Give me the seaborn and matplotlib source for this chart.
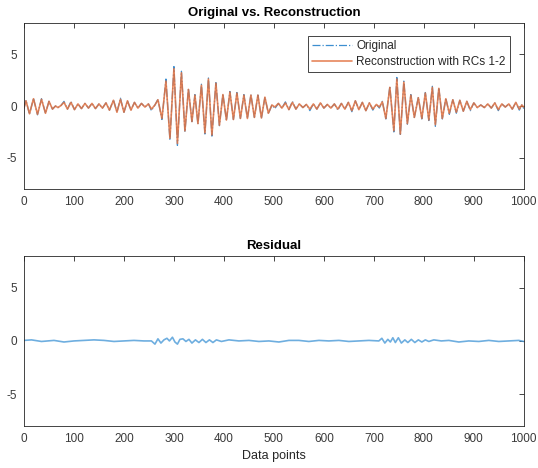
import matplotlib
matplotlib.use("Agg")
import matplotlib.pyplot as plt
import seaborn as sns

# extrema of the signal (sample index)
ext_idx = [0, 4, 11, 19, 27, 35, 43, 50, 57, 63, 68, 74, 80, 87, 94, 101, 108, 115,
           122, 129, 136, 143, 150, 157, 164, 171, 179, 186, 193, 200, 207, 214, 221,
           228, 235, 242, 249, 255, 262, 268, 276, 284, 292, 300, 307, 315, 322, 329,
           336, 342, 348, 355, 362, 369, 376, 384, 391, 398, 405, 412, 419, 426, 433,
           440, 447, 454, 461, 468, 475, 482, 489, 496, 502, 509, 516, 523, 530, 537,
           544, 551, 558, 565, 572, 579, 586, 593, 600, 607, 614, 621, 628, 635, 642,
           649, 656, 663, 670, 677, 684, 691, 698, 705, 711, 717, 724, 732, 740, 746,
           753, 760, 767, 774, 781, 789, 796, 803, 810, 817, 823, 830, 837, 844, 851,
           858, 865, 872, 879, 886, 893, 900, 907, 914, 921, 928, 935, 942, 949, 956,
           963, 970, 977, 984, 991, 996, 1000]

recon_val = [-0.2, 0.5, -0.75, 0.7, -0.8, 0.65, -0.7, 0.45, -0.3, 0.0, -0.15, 0.05, 0.35,
             -0.3, 0.35, -0.35, 0.2, -0.25, 0.25, -0.2, 0.25, -0.25, 0.2, -0.2, 0.3, -0.4,
             0.55, -0.6, 0.65, -0.6, 0.5, -0.4, 0.35, -0.2, 0.25, -0.1, 0.2, -0.3, 0.1,
             0.6, -1.2, 2.4, -3.1, 3.6, -3.6, 3.2, -2.4, 1.6, -1.5, 1.05, -1.7, 2.0, -2.6,
             2.6, -2.8, 2.2, -1.85, 1.1, -1.35, 1.35, -1.3, 1.25, -1.2, 1.05, -1.2, 1.05,
             -1.1, 1.05, -1.15, 0.85, -0.7, 0.1, -0.1, 0.25, -0.2, 0.3, -0.35, 0.35, -0.3,
             0.2, -0.15, 0.15, -0.3, 0.2, -0.3, 0.3, -0.2, 0.15, -0.2, 0.2, -0.3, 0.25,
             -0.3, 0.35, -0.45, 0.5, -0.35, 0.35, -0.45, 0.3, -0.3, 0.15, -0.1, 0.4, -1.2,
             1.8, -2.4, 2.6, -2.7, 2.3, -1.7, 1.05, -1.1, 0.8, -1.2, 1.25, -1.35, 1.8,
             -1.8, 1.7, -1.2, 0.7, -0.7, 0.6, -0.6, 0.55, -0.5, 0.45, -0.35, 0.3, -0.15,
             0.1, -0.15, 0.2, -0.2, 0.3, -0.35, 0.2, -0.1, 0.2, -0.3, 0.35, -0.3, 0.1, -0.1]

orig_val = [-0.2, 0.55, -0.8, 0.75, -0.85, 0.7, -0.7, 0.45, -0.3, 0.0, -0.15, 0.05, 0.45,
            -0.3, 0.45, -0.35, 0.2, -0.25, 0.25, -0.2, 0.25, -0.25, 0.2, -0.2, 0.3, -0.4,
            0.6, -0.6, 0.75, -0.6, 0.5, -0.4, 0.35, -0.2, 0.25, -0.1, 0.2, -0.45, 0.1,
            0.65, -1.3, 2.6, -3.3, 3.8, -3.8, 3.35, -2.5, 1.7, -1.5, 1.1, -1.75, 2.1, -2.7,
            2.7, -2.9, 2.25, -1.9, 1.15, -1.4, 1.4, -1.3, 1.3, -1.2, 1.1, -1.2, 1.1,
            -1.1, 1.05, -1.2, 0.85, -0.75, 0.1, -0.25, 0.25, -0.2, 0.4, -0.35, 0.45, -0.3,
            0.2, -0.15, 0.15, -0.45, 0.2, -0.3, 0.3, -0.2, 0.15, -0.2, 0.2, -0.4, 0.25,
            -0.3, 0.35, -0.55, 0.5, -0.35, 0.35, -0.45, 0.3, -0.4, 0.15, -0.2, 0.45, -1.25,
            1.9, -2.5, 2.75, -2.85, 2.4, -1.75, 1.1, -1.1, 0.85, -1.25, 1.3, -1.4, 1.9,
            -1.95, 1.75, -1.25, 0.75, -0.8, 0.6, -0.7, 0.55, -0.5, 0.45, -0.45, 0.3, -0.15,
            0.1, -0.15, 0.2, -0.2, 0.3, -0.45, 0.2, -0.1, 0.2, -0.3, 0.35, -0.4, 0.1, -0.25]

res_idx = [0, 15, 35, 60, 80, 100, 120, 140, 160, 180, 200, 220, 240, 255, 262, 268, 274,
           280, 286, 291, 297, 302, 307, 312, 318, 324, 330, 336, 343, 350, 357, 364, 371,
           378, 385, 395, 410, 430, 450, 470, 490, 510, 530, 550, 570, 590, 610, 630, 650,
           670, 690, 710, 716, 722, 728, 733, 738, 743, 749, 755, 762, 768, 775, 782, 789,
           796, 803, 810, 820, 835, 850, 870, 890, 910, 930, 950, 970, 990, 1000]
res_val = [0.05, 0.1, -0.05, 0.05, -0.1, 0.0, 0.05, 0.1, 0.05, -0.05, 0.0, 0.05, 0.0, 0.0,
           -0.3, 0.2, -0.2, 0.1, 0.25, 0.0, 0.35, -0.1, -0.3, 0.15, 0.2, -0.05, 0.15, -0.2,
           0.1, -0.15, 0.15, -0.15, 0.1, -0.15, 0.1, -0.05, 0.1, 0.0, 0.05, -0.05, 0.0, -0.1,
           0.05, 0.05, -0.05, 0.05, 0.0, 0.05, -0.05, 0.0, 0.05, 0.0, 0.25, -0.2, 0.15, -0.1,
           0.3, -0.15, 0.3, -0.2, 0.1, -0.15, 0.15, -0.15, 0.1, -0.1, 0.1, -0.05, 0.1, 0.0,
           0.05, -0.1, 0.0, -0.05, 0.05, -0.05, 0.0, 0.05, -0.05]

x_ticks = list(range(0, 1001, 100))
y_ticks = [-5, 0, 5]

BLUE = '#0072BD'
ORANGE = '#D95319'
AXC = '#262626'


def style_axes(ax):
    ax.set_xlim(0, 1000)
    ax.set_ylim(-8, 8)
    ax.set_xticks(x_ticks)
    ax.set_yticks(y_ticks)
    ax.tick_params(direction='in', length=3.5, width=0.6, colors=AXC, labelsize=8.5,
                   top=True, right=True, labelcolor='#3a3a3a', pad=5)
    for s in ax.spines.values():
        s.set_color(AXC)
        s.set_linewidth(0.6)
        s.set_visible(True)
    ax.grid(False)


def generate_plot():
    sns.set_style("white")
    plt.rcParams['font.family'] = ['Liberation Sans', 'DejaVu Sans']
    plt.rcParams['axes.unicode_minus'] = False

    fig = plt.figure(figsize=(5.38, 4.68), dpi=100)
    ax1 = fig.add_axes([0.0446, 0.596, 0.929, 0.355])
    ax2 = fig.add_axes([0.0446, 0.090, 0.929, 0.363])

    sns.lineplot(x=ext_idx, y=orig_val, ax=ax1, color='#3d8fd0', linestyle='-.',
                 linewidth=0.9, label='Original')
    sns.lineplot(x=ext_idx, y=recon_val, ax=ax1, color='#e2713f', linewidth=1.2,
                 alpha=0.85, label='Reconstruction with RCs 1-2')
    style_axes(ax1)
    ax1.set_title('Original vs. Reconstruction', fontsize=9.5, fontweight='bold',
                  color='black', pad=5)
    leg = ax1.legend(loc='upper right', bbox_to_anchor=(0.972, 0.92), fontsize=8.5,
                     frameon=True, fancybox=False, edgecolor=AXC, framealpha=1,
                     handlelength=3.4, borderpad=0.35, labelspacing=0.3,
                     handletextpad=0.35, borderaxespad=0)
    leg.get_frame().set_linewidth(0.6)

    sns.lineplot(x=res_idx, y=res_val, ax=ax2, color='#4a9ad8', linewidth=1.2, alpha=0.8)
    style_axes(ax2)
    ax2.set_title('Residual', fontsize=9.5, fontweight='bold', color='black', pad=5)
    ax2.set_xlabel('Data points', fontsize=9, color=AXC, labelpad=4)

    fig.savefig('out.png', dpi=100)
    plt.close(fig)


if __name__ == "__main__":
    generate_plot()
